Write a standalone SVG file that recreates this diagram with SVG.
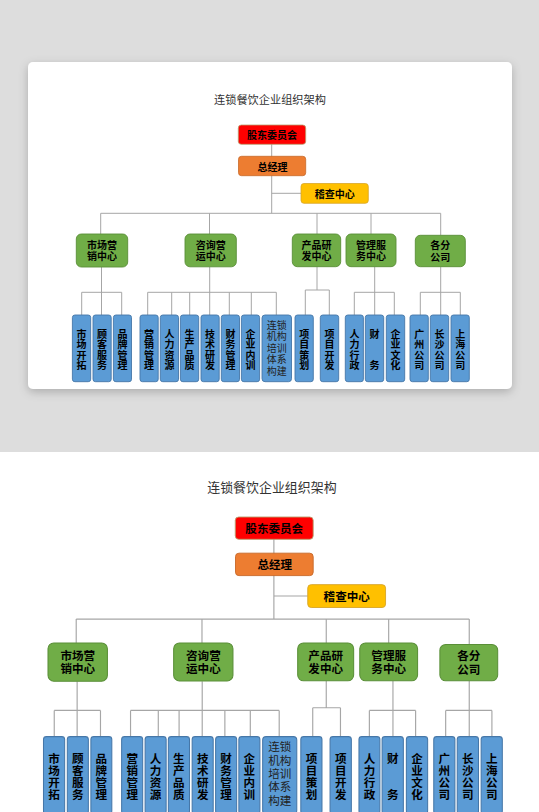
<svg xmlns="http://www.w3.org/2000/svg" xmlns:xlink="http://www.w3.org/1999/xlink" width="539" height="812" viewBox="0 0 539 812">
<defs>
<filter id="shadow" x="-10%" y="-10%" width="120%" height="130%">
<feDropShadow dx="0" dy="3" stdDeviation="5" flood-color="#000" flood-opacity="0.22"/>
</filter>
<style>
text{font-family:"Noto Sans CJK SC","Noto Sans",sans-serif;dominant-baseline:central;text-anchor:middle}
.t{font-size:11.2px;fill:#333}
.b{font-size:10px;font-weight:bold;fill:#000}
.v{font-size:10px;font-weight:bold;fill:#000;writing-mode:vertical-rl;letter-spacing:0.45px}
.r{font-size:10px;fill:#222}
.ln{stroke:#a6a6a6;stroke-width:1;fill:none}
.red{fill:#ff0000;stroke:#b8a070;stroke-width:0.8}
.org{fill:#ed7d31;stroke:#c8692a;stroke-width:0.8}
.yel{fill:#ffc000;stroke:#d8a628;stroke-width:0.8}
.grn{fill:#70ad47;stroke:#5a8f38;stroke-width:0.9}
.blu{fill:#5b9bd5;stroke:#4677a8;stroke-width:0.9}
</style>
</defs>
<rect x="0" y="0" width="539" height="452" fill="#dddddd"/>
<rect x="0" y="452" width="539" height="360" fill="#ffffff"/>
<rect x="28" y="62" width="484" height="327" rx="5" fill="#ffffff" filter="url(#shadow)"/>
<g id="chart">
<text class="t" x="270" y="99">连锁餐饮企业组织架构</text>
<g id="connectors">
<path class="ln" d="M271.7 144 V213.3 M271.7 193.3 H301 M100.7 213.3 H440.7 M100.7 213.3 V234 M209.5 213.3 V234 M317 213.3 V234 M371 213.3 V235 M440.7 213.3 V235"/>
<path class="ln" d="M101.5 267 V315 M81.7 292.3 H121.7 M81.7 292.3 V315 M121.7 292.3 V315"/>
<path class="ln" d="M209.7 267 V315 M147.7 292.3 H276.3 M147.7 292.3 V315 M171.7 292.3 V315 M189.7 292.3 V315 M229.3 292.3 V315 M251.3 292.3 V315 M276.3 292.3 V315"/>
<path class="ln" d="M317 266.7 V290 M305.3 290 H329.3 M305.3 290 V315 M329.3 290 V315"/>
<path class="ln" d="M374.7 266.7 V315 M354.3 292.3 H394.3 M354.3 292.3 V315 M394.3 292.3 V315"/>
<path class="ln" d="M440.7 266.7 V315 M420.3 292.3 H460.3 M420.3 292.3 V315 M460.3 292.3 V315"/>
</g>
<g id="n-gudong"><rect class="red" x="238.3" y="125" width="67.4" height="19.3" rx="3"/><text class="b" x="272" y="134.8">股东委员会</text></g>
<g id="n-zongjingli"><rect class="org" x="238.5" y="156.3" width="67.2" height="19.4" rx="3"/><text class="b" x="272.5" y="166">总经理</text></g>
<g id="n-jicha"><rect class="yel" x="301" y="183.5" width="67.3" height="19.8" rx="3"/><text class="b" x="334.7" y="193.4">稽查中心</text></g>
<g id="n-shichang"><rect class="grn" x="76.3" y="234" width="51.4" height="33" rx="5"/><text class="b" x="102" y="244.2">市场营</text><text class="b" x="102" y="255.9">销中心</text></g>
<g id="n-zixun"><rect class="grn" x="185" y="234" width="51.3" height="32.8" rx="5"/><text class="b" x="210.7" y="244.2">咨询营</text><text class="b" x="210.7" y="255.9">运中心</text></g>
<g id="n-chanpin"><rect class="grn" x="292.3" y="234" width="48.4" height="32.7" rx="5"/><text class="b" x="316.5" y="244.2">产品研</text><text class="b" x="316.5" y="255.9">发中心</text></g>
<g id="n-guanli"><rect class="grn" x="346" y="234" width="50" height="32.7" rx="5"/><text class="b" x="371" y="244.2">管理服</text><text class="b" x="371" y="255.9">务中心</text></g>
<g id="n-gefen"><rect class="grn" x="415.3" y="235.3" width="50" height="31.4" rx="5"/><text class="b" x="440.3" y="244.5">各分</text><text class="b" x="440.3" y="256.2">公司</text></g>
<g id="n-sckt"><rect class="blu" x="72.4" y="315" width="18.3" height="66.7" rx="2.5"/><text class="v" x="81.5" y="350">市场开拓</text></g>
<g id="n-gkfw"><rect class="blu" x="93" y="315" width="18.2" height="66.7" rx="2.5"/><text class="v" x="102.1" y="350">顾客服务</text></g>
<g id="n-ppgl"><rect class="blu" x="113.4" y="315" width="18.1" height="66.7" rx="2.5"/><text class="v" x="122.4" y="350">品牌管理</text></g>
<g id="n-yxgl"><rect class="blu" x="140" y="315" width="18.2" height="66.7" rx="2.5"/><text class="v" x="149.1" y="350">营销管理</text></g>
<g id="n-rlzy"><rect class="blu" x="160.3" y="315" width="18.2" height="66.7" rx="2.5"/><text class="v" x="169.4" y="350">人力资源</text></g>
<g id="n-scpz"><rect class="blu" x="180.4" y="315" width="18.3" height="66.7" rx="2.5"/><text class="v" x="189.5" y="350">生产品质</text></g>
<g id="n-jsyf"><rect class="blu" x="201" y="315" width="18.2" height="66.7" rx="2.5"/><text class="v" x="210.1" y="350">技术研发</text></g>
<g id="n-cwgl"><rect class="blu" x="221.3" y="315" width="18.2" height="66.7" rx="2.5"/><text class="v" x="230.4" y="350">财务管理</text></g>
<g id="n-qynx"><rect class="blu" x="241.4" y="315" width="18.2" height="66.7" rx="2.5"/><text class="v" x="250.5" y="350">企业内训</text></g>
<g id="n-lsjg"><rect class="blu" x="262" y="315" width="29.5" height="66.7" rx="3"/><text class="r" x="276.8" y="323.5"><tspan x="276.8">连锁</tspan><tspan x="276.8" dy="11.5">机构</tspan><tspan x="276.8" dy="11.5">培训</tspan><tspan x="276.8" dy="11.5">体系</tspan><tspan x="276.8" dy="11.5">构建</tspan></text></g>
<g id="n-xmch"><rect class="blu" x="295" y="315" width="18.3" height="66.7" rx="2.5"/><text class="v" x="304.2" y="350">项目策划</text></g>
<g id="n-xmkf"><rect class="blu" x="320.3" y="315" width="18.4" height="66.7" rx="2.5"/><text class="v" x="329.5" y="350">项目开发</text></g>
<g id="n-rlxz"><rect class="blu" x="345.3" y="315" width="18.1" height="66.7" rx="2.5"/><text class="v" x="354.4" y="350">人力行政</text></g>
<g id="n-cw"><rect class="blu" x="365.3" y="315" width="18.4" height="66.7" rx="2.5"/><text class="v" x="374.5" y="350">财　　务</text></g>
<g id="n-qywh"><rect class="blu" x="386.3" y="315" width="18.4" height="66.7" rx="2.5"/><text class="v" x="395.5" y="350">企业文化</text></g>
<g id="n-gz"><rect class="blu" x="410" y="315" width="18.3" height="66.7" rx="2.5"/><text class="v" x="419.2" y="350">广州公司</text></g>
<g id="n-cs"><rect class="blu" x="430.3" y="315" width="18.4" height="66.7" rx="2.5"/><text class="v" x="439.5" y="350">长沙公司</text></g>
<g id="n-sh"><rect class="blu" x="451" y="315" width="18.3" height="66.7" rx="2.5"/><text class="v" x="460.2" y="350">上海公司</text></g>
</g>
<use xlink:href="#chart" href="#chart" transform="translate(-40.2 372.5) scale(1.156)"/>
</svg>
